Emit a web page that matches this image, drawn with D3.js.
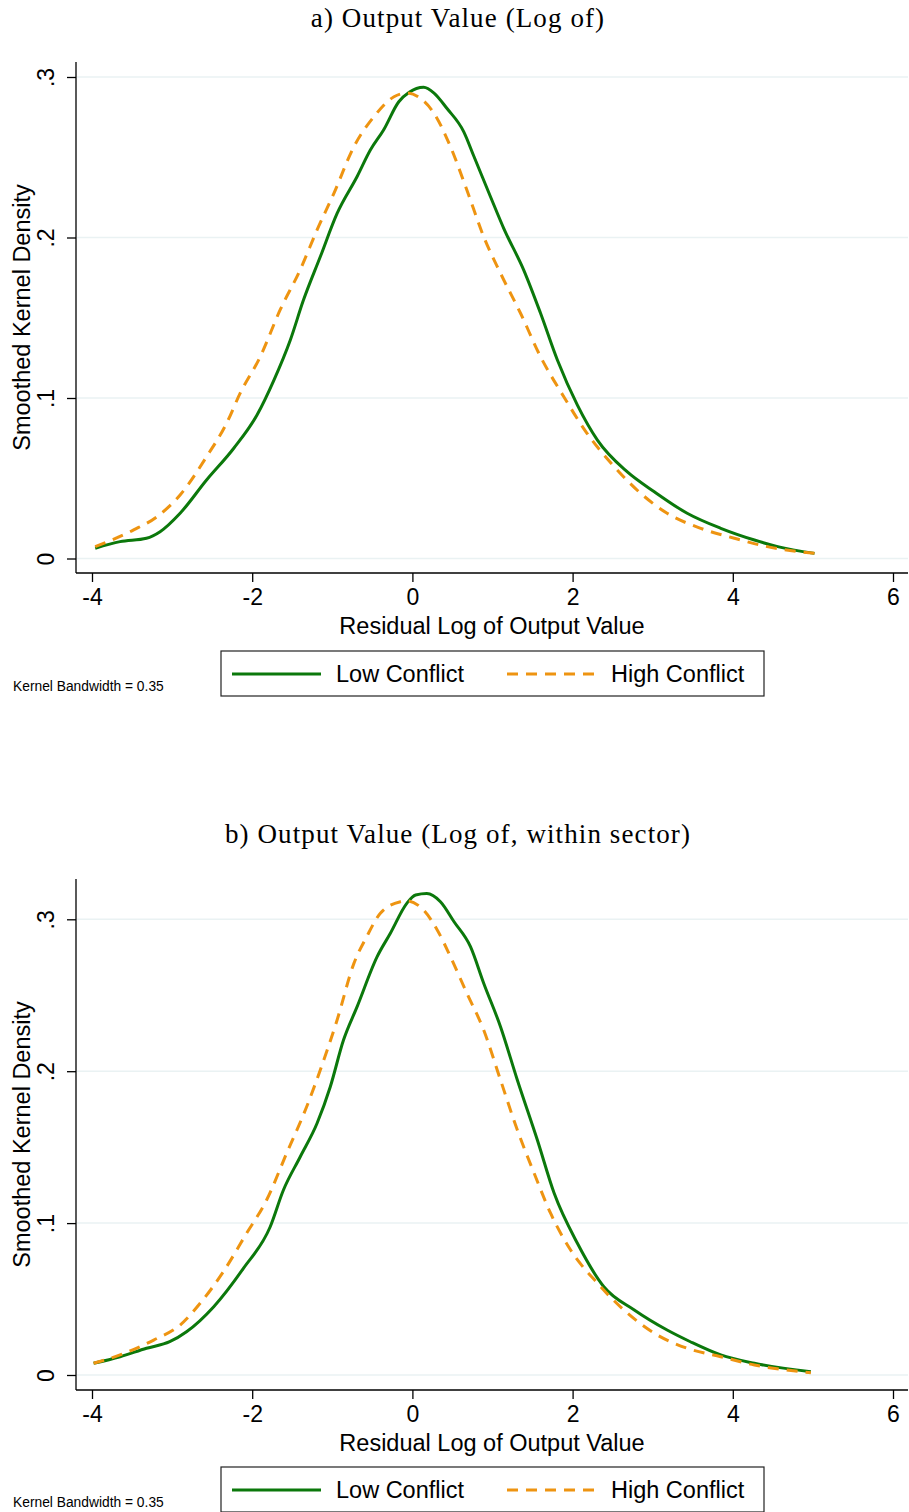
<!DOCTYPE html>
<html lang="en">
<head>
  <meta charset="UTF-8">
  <title>Kernel densities of residual log output value</title>
  <style>
    body, html { margin: 0; padding: 0; background: white; }
    svg { display: block; }
    .title { font-family: "Liberation Serif", "DejaVu Serif", serif; font-size: 27px; letter-spacing: 1.1px; }
    .tick text { font-family: "Liberation Sans", Arial, sans-serif; font-size: 23px; fill: black; }
    .lab { font-family: "Liberation Sans", Arial, sans-serif; font-size: 23.5px; }
    .note { font-family: "Liberation Sans", Arial, sans-serif; font-size: 13.8px; }
  </style>
</head>
<body>
  <script src="https://d3js.org/d3.v7.min.js"></script>
  <script>
    // x ticks and y ticks
    const xTicks = [-4, -2, 0, 2, 4, 6];
    const yTicks = [0, 0.1, 0.2, 0.3];
    const yTickLabels = ['0', '.1', '.2', '.3'];

    // panel a: log of output value
    const lowA = [[-3.96, 0.0064], [-3.65, 0.0105], [-3.32, 0.0126], [-3.15, 0.0167], [-2.9, 0.0282],
      [-2.57, 0.0489], [-2.23, 0.0687], [-1.94, 0.0894], [-1.73, 0.111], [-1.525, 0.136], [-1.36, 0.161],
      [-1.15, 0.188], [-0.94, 0.215], [-0.69, 0.238], [-0.525, 0.2545], [-0.36, 0.267], [-0.17, 0.2846],
      [-0.04, 0.2905], [0.14, 0.2936], [0.27, 0.290], [0.43, 0.2805], [0.64, 0.266], [0.77, 0.2503],
      [0.975, 0.2254], [1.14, 0.2057], [1.39, 0.1797], [1.6, 0.1528], [1.81, 0.1237], [2.06, 0.0956],
      [2.31, 0.0738], [2.68, 0.0541], [3.02, 0.0416], [3.43, 0.0282], [3.85, 0.0188], [4.27, 0.0115],
      [4.56, 0.0074], [5.02, 0.0032]];
    const highA = [[-3.96, 0.0074], [-3.48, 0.0178], [-3.19, 0.026], [-2.9, 0.0396], [-2.57, 0.0634],
      [-2.32, 0.0842], [-2.15, 0.103], [-1.9, 0.1257], [-1.65, 0.155], [-1.4, 0.18], [-1.19, 0.2047],
      [-0.98, 0.2275], [-0.73, 0.2566], [-0.48, 0.2753], [-0.23, 0.2877], [-0.07, 0.290], [0.1, 0.2867],
      [0.27, 0.2774], [0.475, 0.2566], [0.68, 0.2296], [0.89, 0.2005], [1.1, 0.1777], [1.35, 0.1528],
      [1.6, 0.1257], [1.89, 0.1008], [2.18, 0.078], [2.52, 0.0572], [2.85, 0.0406], [3.18, 0.0282],
      [3.6, 0.0188], [4.02, 0.0126], [4.43, 0.0074], [5.02, 0.0032]];

    // panel b: log of output value, within sector
    const lowB = [[-3.98, 0.0077], [-3.65, 0.012], [-3.32, 0.0176], [-3.03, 0.0219], [-2.82, 0.0285],
      [-2.48, 0.045], [-2.11, 0.0702], [-1.775, 0.0976], [-1.61, 0.1218], [-1.4, 0.1437], [-1.19, 0.1657],
      [-1.025, 0.1898], [-0.86, 0.2205], [-0.69, 0.2425], [-0.44, 0.2754], [-0.275, 0.2908],
      [-0.07, 0.3105], [0.04, 0.316], [0.18, 0.317], [0.35, 0.3116], [0.52, 0.2984], [0.725, 0.282],
      [0.89, 0.2579], [1.1, 0.2293], [1.31, 0.1942], [1.56, 0.1547], [1.77, 0.1196], [2.06, 0.0867],
      [2.39, 0.0581], [2.77, 0.0428], [3.18, 0.0296], [3.47, 0.0219], [3.85, 0.0132], [4.27, 0.0077],
      [4.975, 0.0022]];
    const highB = [[-3.98, 0.0077], [-3.65, 0.0132], [-3.23, 0.023], [-2.9, 0.0329], [-2.65, 0.0472],
      [-2.36, 0.068], [-2.07, 0.0933], [-1.82, 0.1152], [-1.57, 0.146], [-1.32, 0.1766], [-1.15, 0.2008],
      [-0.94, 0.2337], [-0.73, 0.271], [-0.57, 0.2886], [-0.4, 0.304], [-0.15, 0.3116], [-0.07, 0.3122],
      [0.14, 0.306], [0.31, 0.293], [0.475, 0.2754], [0.68, 0.2513], [0.89, 0.2271], [1.1, 0.1942],
      [1.31, 0.1613], [1.52, 0.1328], [1.725, 0.1065], [1.975, 0.0823], [2.31, 0.0604], [2.64, 0.0428],
      [3.02, 0.0275], [3.43, 0.0176], [3.85, 0.012], [4.27, 0.0066], [4.975, 0.0015]];

    const panels = [
      { title: 'a) Output Value (Log of)', low: lowA, high: highA, top: 0, axisTop: 62, axisY: 573, y0: 558.5, y3: 77 },
      { title: 'b) Output Value (Log of, within sector)', low: lowB, high: highB, top: 816, axisTop: 879, axisY: 1390, y0: 1375, y3: 919.3 }
    ];

    const width = 909, height = 1512;
    const green = '#0b780b', orange = '#ee9411';

    const svg = d3.select('body').append('svg')
      .attr('width', width)
      .attr('height', height);

    const x = d3.scaleLinear().domain([-4, 6]).range([92, 893]);

    panels.forEach(p => {
      const g = svg.append('g');
      const y = d3.scaleLinear().domain([0, 0.3]).range([p.y0, p.y3]);

      g.append('text').attr('class', 'title')
        .attr('x', 458).attr('y', p.top + 27)
        .attr('text-anchor', 'middle')
        .text(p.title);

      // grid
      g.selectAll('.grid').data(yTicks).enter().append('line')
        .attr('x1', 77).attr('x2', 908)
        .attr('y1', d => y(d)).attr('y2', d => y(d))
        .attr('stroke', '#eaf2f3').attr('stroke-width', 1.5);

      // x axis
      const xa = g.append('g').attr('transform', `translate(0,${p.axisY})`)
        .call(d3.axisBottom(x).tickValues(xTicks).tickSize(9).tickPadding(7).tickFormat(d => String(d)));
      xa.select('.domain').remove();
      xa.selectAll('.tick line').attr('stroke', 'black').attr('stroke-width', 1.3);
      g.append('line').attr('x1', 76).attr('x2', 908).attr('y1', p.axisY).attr('y2', p.axisY)
        .attr('stroke', 'black').attr('stroke-width', 1.3);

      // y axis
      const ya = g.append('g').attr('transform', 'translate(76,0)')
        .call(d3.axisLeft(y).tickValues(yTicks).tickSize(9).tickFormat((d, i) => yTickLabels[i]));
      ya.select('.domain').remove();
      ya.selectAll('.tick line').attr('stroke', 'black').attr('stroke-width', 1.3);
      ya.selectAll('.tick text')
        .attr('x', 0)
        .attr('text-anchor', 'middle')
        .attr('transform', 'translate(-30,0) rotate(-90)')
        .attr('dy', '0.35em');
      g.append('line').attr('x1', 76).attr('x2', 76).attr('y1', p.axisTop).attr('y2', p.axisY)
        .attr('stroke', 'black').attr('stroke-width', 1.3);

      // axis titles
      g.append('text').attr('class', 'lab')
        .attr('x', 492).attr('y', p.axisY + 61)
        .attr('text-anchor', 'middle')
        .text('Residual Log of Output Value');
      g.append('text').attr('class', 'lab')
        .attr('transform', `translate(30,${(p.axisTop + p.axisY) / 2}) rotate(-90)`)
        .attr('text-anchor', 'middle')
        .text('Smoothed Kernel Density');

      const line = d3.line()
        .x(d => x(d[0]))
        .y(d => y(d[1]))
        .curve(d3.curveMonotoneX);

      g.append('path').datum(p.low)
        .attr('d', line).attr('fill', 'none')
        .attr('stroke', green).attr('stroke-width', 3);
      g.append('path').datum(p.high)
        .attr('d', line).attr('fill', 'none')
        .attr('stroke', orange).attr('stroke-width', 3)
        .attr('stroke-dasharray', '11,8');

      // legend
      const ly = p.top + 651;
      g.append('rect').attr('x', 221).attr('y', ly).attr('width', 543).attr('height', 45)
        .attr('fill', 'white').attr('stroke', '#222').attr('stroke-width', 1.2);
      g.append('line').attr('x1', 232).attr('x2', 321).attr('y1', ly + 23).attr('y2', ly + 23)
        .attr('stroke', green).attr('stroke-width', 3);
      g.append('text').attr('class', 'lab').attr('x', 336).attr('y', ly + 31).text('Low Conflict');
      g.append('line').attr('x1', 507).attr('x2', 597).attr('y1', ly + 23).attr('y2', ly + 23)
        .attr('stroke', orange).attr('stroke-width', 3).attr('stroke-dasharray', '11,8');
      g.append('text').attr('class', 'lab').attr('x', 611).attr('y', ly + 31).text('High Conflict');

      g.append('text').attr('class', 'note')
        .attr('x', 13).attr('y', p.top + 691)
        .text('Kernel Bandwidth = 0.35');
    });
  </script>
</body>
</html>
